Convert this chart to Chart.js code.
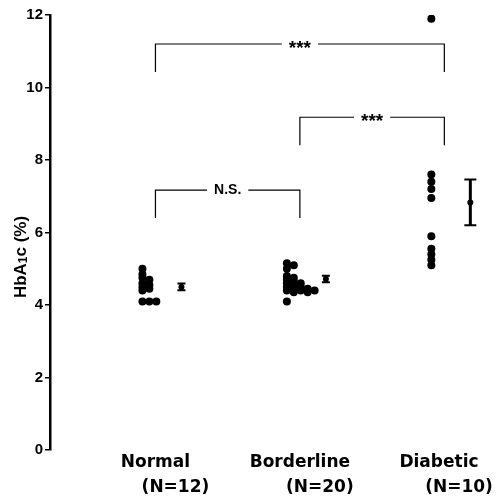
<!DOCTYPE html>
<html>
<head>
<meta charset="utf-8">
<script src="https://cdn.jsdelivr.net/npm/chart.js@4.4.0/dist/chart.umd.min.js"></script>
<style>
  html, body { margin: 0; padding: 0; background: #fff; }
  #wrap { width: 496px; height: 496px; }
</style>
</head>
<body>
<div id="wrap"><canvas id="hba1c"></canvas></div>
<script>
// groups and individual HbA1c values (%)
const groups = ['Normal', 'Borderline', 'Diabetic'];
const groupN = ['(N=12)', '(N=20)', '(N=10)'];
const normalValues = [5.0, 4.85, 4.75, 4.7, 4.6, 4.55, 4.5, 4.45, 4.4, 4.1, 4.1, 4.1];
const borderlineValues = [5.15, 5.1, 5.0, 4.8, 4.75, 4.7, 4.65, 4.6, 4.6, 4.55,
                          4.5, 4.5, 4.45, 4.45, 4.4, 4.4, 4.4, 4.35, 4.35, 4.1];
const diabeticValues = [11.9, 7.6, 7.4, 7.2, 6.95, 5.9, 5.55, 5.4, 5.25, 5.1];
const groupMeans = [4.5, 4.72, 6.83];
const groupSems = [0.09, 0.09, 0.63];
const yTicks = [0, 2, 4, 6, 8, 10, 12];
const comparisons = [
  { from: 0, to: 2, level: 11.2, label: '***' },
  { from: 1, to: 2, level: 9.18, label: '***' },
  { from: 0, to: 1, level: 7.17, label: 'N.S.' }
];

const FONT = '"Liberation Sans", Arial, sans-serif';
const WIDE = '"DejaVu Sans", sans-serif';
const LEG = 0.09;      // bracket legs sit just right of each column
const MEAN_OFF = 0.27; // mean +/- SEM bar beside each column

// one-sided beeswarm: equal values step out to the right
function swarm(values, base) {
  const placed = [];
  return values.slice().sort((a, b) => b - a).map(v => {
    let k = 0;
    while (placed.some(p => p.k === k && Math.abs(p.v - v) < 0.09)) k++;
    placed.push({ v, k });
    return { x: base + k * 0.048, y: v };
  });
}

const dotStyle = {
  backgroundColor: '#000',
  borderWidth: 0,
  pointRadius: 4,
  pointHoverRadius: 4
};

const datasets = [normalValues, borderlineValues, diabeticValues].map((vals, i) => ({
  label: groups[i],
  data: swarm(vals, i + 1),
  ...dotStyle
}));
datasets.push({
  label: 'mean',
  data: groupMeans.map((m, i) => ({ x: i + 1 + MEAN_OFF, y: m })),
  backgroundColor: '#000',
  borderWidth: 0,
  pointRadius: 3
});

const annotations = {
  id: 'annotations',
  afterDatasetsDraw(chart) {
    const { ctx, scales: { x, y } } = chart;
    ctx.save();
    ctx.strokeStyle = '#000';

    // mean +/- SEM
    groupMeans.forEach((m, i) => {
      const px = x.getPixelForValue(i + 1 + MEAN_OFF);
      const top = y.getPixelForValue(m + groupSems[i]);
      const bot = y.getPixelForValue(m - groupSems[i]);
      const cap = i === 2 ? 6 : 4;
      ctx.lineWidth = 3;
      ctx.beginPath();
      ctx.moveTo(px, top);
      ctx.lineTo(px, bot);
      ctx.stroke();
      ctx.lineWidth = 2;
      ctx.beginPath();
      ctx.moveTo(px - cap, top); ctx.lineTo(px + cap, top);
      ctx.moveTo(px - cap, bot); ctx.lineTo(px + cap, bot);
      ctx.stroke();
    });

    // significance brackets
    ctx.textAlign = 'center';
    ctx.textBaseline = 'middle';
    ctx.fillStyle = '#000';
    ctx.lineWidth = 1.2;
    comparisons.forEach(c => {
      const stars = c.label === '***';
      ctx.font = stars ? 'bold 19px ' + FONT : 'bold 14px ' + FONT;
      const x1 = x.getPixelForValue(c.from + 1 + LEG);
      const x2 = x.getPixelForValue(c.to + 1 + LEG);
      const py = y.getPixelForValue(c.level);
      const mid = (x1 + x2) / 2;
      const half = ctx.measureText(c.label).width / 2 + 7;
      ctx.beginPath();
      ctx.moveTo(x1, py + 28); ctx.lineTo(x1, py); ctx.lineTo(mid - half, py);
      ctx.moveTo(mid + half, py); ctx.lineTo(x2, py); ctx.lineTo(x2, py + 28);
      ctx.stroke();
      ctx.fillText(c.label, mid, stars ? py + 5 : py);
    });
    ctx.restore();
  },
  afterDraw(chart) {
    const { ctx, scales: { x }, chartArea } = chart;
    ctx.save();
    ctx.fillStyle = '#000';
    ctx.textAlign = 'center';
    ctx.textBaseline = 'middle';
    ctx.font = 'bold 17px ' + WIDE;
    groups.forEach((g, i) => {
      const px = x.getPixelForValue(i + 1 + LEG);
      ctx.fillText(g, Math.min(px, 439), chartArea.bottom + 13);
      ctx.fillText(groupN[i], Math.min(px + 20, 459), chartArea.bottom + 38);
    });

    // y axis title with subscript 1
    ctx.translate(20, 257);
    ctx.rotate(-Math.PI / 2);
    ctx.textAlign = 'left';
    ctx.textBaseline = 'alphabetic';
    const big = 'bold 17px ' + FONT;
    const small = 'bold 12px ' + FONT;
    const parts = [['HbA', big, 0], ['1', small, 1], ['c (%)', big, 0]];
    let total = 0;
    parts.forEach(p => { ctx.font = p[1]; total += ctx.measureText(p[0]).width; });
    let cx = -total / 2;
    parts.forEach(p => {
      ctx.font = p[1];
      ctx.fillText(p[0], cx, 6 + p[2]);
      cx += ctx.measureText(p[0]).width;
    });
    ctx.restore();
  }
};

new Chart(document.getElementById('hba1c'), {
  type: 'scatter',
  data: { datasets },
  options: {
    responsive: true,
    maintainAspectRatio: false,
    animation: false,
    layout: { padding: { top: 15, bottom: 46, left: 0, right: 0 } },
    plugins: { legend: { display: false }, tooltip: { enabled: false } },
    scales: {
      x: { type: 'linear', display: false, min: 0.36, max: 3.42 },
      y: {
        min: 0,
        max: 12,
        afterBuildTicks: scale => { scale.ticks = yTicks.map(v => ({ value: v })); },
        afterFit: scale => { scale.width = 50; },
        ticks: {
          color: '#000',
          padding: 2,
          font: { family: FONT, size: 15, weight: 'bold' }
        },
        grid: {
          display: true,
          drawOnChartArea: false,
          drawTicks: true,
          tickLength: 5,
          color: '#000',
          lineWidth: 1.5
        },
        border: { display: true, color: '#000', width: 2.5 }
      }
    }
  },
  plugins: [annotations]
});
</script>
</body>
</html>
